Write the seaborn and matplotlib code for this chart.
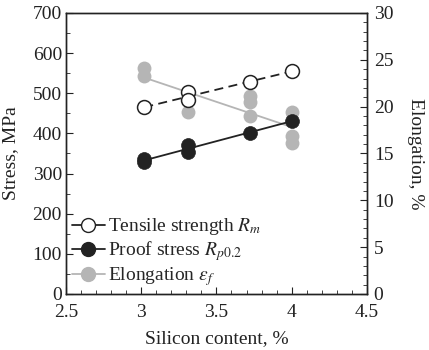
import numpy as np
import pandas as pd
import seaborn as sns
import matplotlib.pyplot as plt
from matplotlib.ticker import MultipleLocator
from matplotlib.lines import Line2D

# Silicon content (%) for each measured specimen
si_tensile = [3.02, 3.31, 3.31, 3.72, 4.0]
tensile = [465, 502, 482, 528, 555]

si_proof = [3.02, 3.02, 3.31, 3.31, 3.72, 4.0]
proof = [335, 330, 372, 353, 401, 431]

si_elong = [3.02, 3.02, 3.31, 3.31, 3.72, 3.72, 3.72, 4.0, 4.0, 4.0]
elong = [24.1, 23.3, 20.9, 19.4, 21.1, 20.5, 19.0, 19.4, 16.9, 16.1]

sns.set_style("ticks")
plt.rcParams["font.family"] = ["Liberation Serif", "DejaVu Serif"]
plt.rcParams["mathtext.fontset"] = "stix"
plt.rcParams["xtick.direction"] = "in"
plt.rcParams["ytick.direction"] = "in"

BLACK = "#222222"
GRAY = "#b5b5b5"
FS = 14

fig = plt.figure(figsize=(4.29, 3.5), dpi=100)
ax = fig.add_axes([0.154, 0.16, 0.701, 0.803])
ax2 = ax.twinx()


def trend(x, y):
    # linear fit over measured points
    k, b = np.polyfit(x, y, 1)
    xs = np.array([min(x), max(x)])
    return xs, k * xs + b


# elongation on the right axis (drawn first, behind)
ex, ey = trend(si_elong, elong)
ax2.plot(ex, ey, color=GRAY, lw=1.3, zorder=1)
sns.scatterplot(x=si_elong, y=elong, ax=ax2, color=GRAY, s=100,
                edgecolor=GRAY, linewidth=0, zorder=2)

ax.set_zorder(ax2.get_zorder() + 1)
ax.patch.set_visible(False)

tx, ty = trend(si_tensile, tensile)
ax.plot(tx, ty, color=BLACK, lw=1.3, ls=(0, (5, 3)), zorder=1)
sns.scatterplot(x=si_tensile, y=tensile, ax=ax, color="white", s=100,
                edgecolor=BLACK, linewidth=1.1, zorder=3)

px, py = trend(si_proof, proof)
ax.plot(px, py, color=BLACK, lw=1.3, zorder=1)
sns.scatterplot(x=si_proof, y=proof, ax=ax, color=BLACK, s=100,
                edgecolor=BLACK, linewidth=0.5, zorder=3)

ax.set_xlim(2.5, 4.5)
ax.set_ylim(0, 700)
ax2.set_ylim(0, 30)
ax.xaxis.set_major_locator(MultipleLocator(0.5))
ax.xaxis.set_minor_locator(MultipleLocator(0.1))
ax.yaxis.set_major_locator(MultipleLocator(100))
ax.yaxis.set_minor_locator(MultipleLocator(50))
ax2.yaxis.set_major_locator(MultipleLocator(5))
ax2.yaxis.set_minor_locator(MultipleLocator(1))
ax.set_xticks([2.5, 3, 3.5, 4, 4.5])
ax.set_xticklabels(["2.5", "3", "3.5", "4", "4.5"])

for a in (ax, ax2):
    a.tick_params(which="major", length=5, width=0.8, labelsize=FS, colors=BLACK)
    a.tick_params(which="minor", length=3, width=0.6, colors=BLACK)
    for s in a.spines.values():
        s.set_color(BLACK)
        s.set_linewidth(1.0)
ax.tick_params(axis="y", which="both", right=False, pad=3)
ax.tick_params(axis="x", pad=7)
ax2.tick_params(axis="y", which="both", left=False, pad=5)

ax.set_xlabel("Silicon content, %", fontsize=FS, color=BLACK, labelpad=7)
ax.set_ylabel("Stress, MPa", fontsize=FS, color=BLACK, labelpad=10)
ax2.set_ylabel("Elongation, %", fontsize=FS, color=BLACK, rotation=270, labelpad=22)

handles = [
    Line2D([], [], color=BLACK, lw=1.3, marker="o", ms=10, mfc="white", mec=BLACK),
    Line2D([], [], color=BLACK, lw=1.3, marker="o", ms=10, mfc=BLACK, mec=BLACK),
    Line2D([], [], color=GRAY, lw=1.3, marker="o", ms=10, mfc=GRAY, mec=GRAY),
]
labels = ["Tensile strength $R_m$", r"Proof stress $R_{p\mathit{0.2}}$",
          r"Elongation $\varepsilon_f$"]
ax.legend(handles, labels, loc="lower left", frameon=False, fontsize=FS,
          handlelength=1.7, handletextpad=0.15, labelspacing=0.1,
          borderaxespad=0.0, borderpad=0.3)

fig.savefig("out.png", dpi=100)
